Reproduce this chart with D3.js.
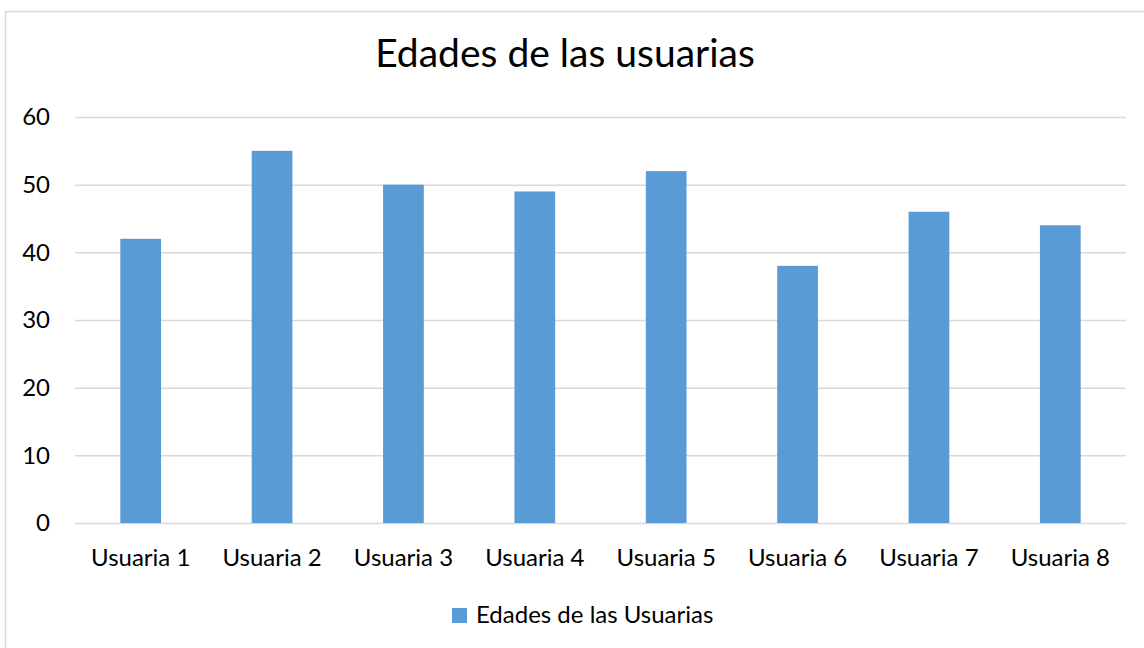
<!DOCTYPE html>
<html><head><meta charset="utf-8">
<script src="https://cdn.jsdelivr.net/npm/d3@7"></script>
<style>body{margin:0;background:#fff;}svg{display:block;font-family:Lato,"Open Sans",sans-serif;}</style>
</head><body>
<svg id="chart" width="1144" height="648"></svg>
<script>
const title = "Edades de las usuarias";
const seriesName = "Edades de las Usuarias";
const categories = ["Usuaria 1","Usuaria 2","Usuaria 3","Usuaria 4","Usuaria 5","Usuaria 6","Usuaria 7","Usuaria 8"];
const values = [42, 55, 50, 49, 52, 38, 46, 44];
const yTicks = [0, 10, 20, 30, 40, 50, 60];

const svg = d3.select("#chart");
const W = 1144, H = 648;
const m = {left: 75, right: 18, top: 117, bottom: 125};
const color = "#5b9bd5";
const fs = 24;

svg.append("rect").attr("x", 5.5).attr("y", 11.5).attr("width", W + 10).attr("height", H + 10)
  .attr("fill", "#fff").attr("stroke", "#d9d9d9").attr("stroke-width", 1.5);

const x = d3.scaleBand().domain(categories).range([m.left, W - m.right]).paddingInner(0.69).paddingOuter(0.345);
const y = d3.scaleLinear().domain([0, 60]).range([H - m.bottom, m.top]);

const yAxis = svg.append("g").attr("transform", `translate(${m.left},0)`)
  .call(d3.axisLeft(y).tickValues(yTicks).tickSize(-(W - m.right - m.left)).tickPadding(25));
yAxis.select(".domain").remove();
yAxis.selectAll(".tick line").attr("stroke", "#d9d9d9").attr("stroke-width", 1.5);
yAxis.selectAll(".tick text").attr("font-size", fs).attr("fill", "#000").attr("font-family", "Lato");

svg.append("g").selectAll("rect").data(values).join("rect")
  .attr("x", (d, i) => x(categories[i]))
  .attr("width", x.bandwidth())
  .attr("y", d => y(d))
  .attr("height", d => y(0) - y(d))
  .attr("fill", color);

const xAxis = svg.append("g").attr("transform", `translate(0,${y(0)})`)
  .call(d3.axisBottom(x).tickSize(0).tickPadding(26));
xAxis.select(".domain").remove();
xAxis.selectAll(".tick text").attr("font-size", fs).attr("fill", "#000").attr("font-family", "Lato");

svg.append("text").attr("x", 565).attr("y", 67).attr("text-anchor", "middle")
  .attr("font-size", 39).attr("fill", "#000").text(title);

const lg = svg.append("g");
lg.append("rect").attr("x", 452).attr("y", 608).attr("width", 15).attr("height", 15).attr("fill", color);
lg.append("text").attr("x", 476).attr("y", 623).attr("font-size", fs).attr("fill", "#000").text(seriesName);
</script>
</body></html>
